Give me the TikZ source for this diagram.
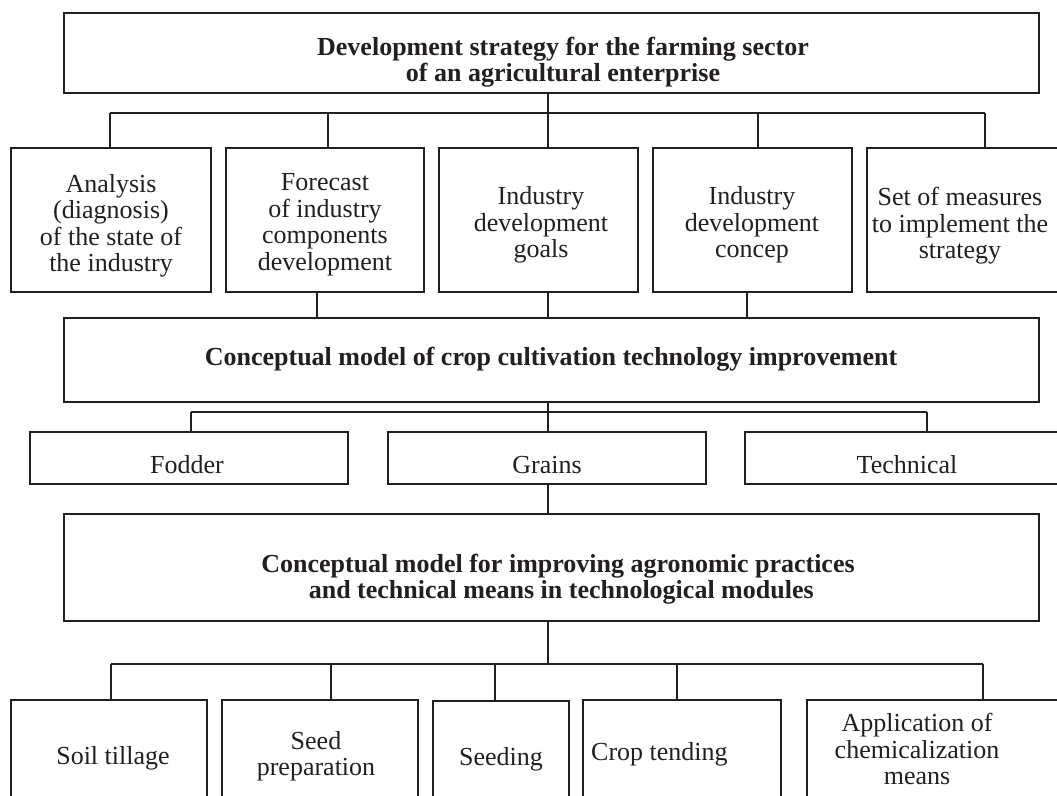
\documentclass[tikz,border=0pt]{standalone}
\usepackage{fontspec}
\setmainfont{Liberation Serif}
\definecolor{ink}{RGB}{35,31,32}
\begin{document}
\begin{tikzpicture}[x=1pt,y=-1pt,
  box/.style={draw=ink, line width=2.2pt, inner sep=0pt, outer sep=0pt, anchor=north west},
  conn/.style={draw=ink, line width=1.7pt},
  lbl/.style={text=ink, font=\fontsize{26pt}{26.5pt}\selectfont, align=center, inner sep=0pt},
  head/.style={lbl, font=\fontsize{26pt}{26.5pt}\selectfont\bfseries}]
\useasboundingbox (0,0) rectangle (1057,795);
\fill[white] (0,0) rectangle (1057,795);
\clip (0,0) rectangle (1057,795);

% ---- strategy level
\node[box, minimum width=975pt, minimum height=80pt] (T) at (64,13) {};
\node[head] (Ttxt) at (563,62) {Development strategy for the farming sector\\of an agricultural enterprise};

% ---- strategy components
\node[box, minimum width=200pt, minimum height=144pt] (b1) at (11,148) {};
\node[box, minimum width=198pt, minimum height=144pt] (b2) at (226,148) {};
\node[box, minimum width=199pt, minimum height=144pt] (b3) at (439,148) {};
\node[box, minimum width=199pt, minimum height=144pt] (b4) at (653,148) {};
\node[box, minimum width=200pt, minimum height=144pt] (b5) at (867,148) {};
\node[lbl] (b1t) at (111,226) {Analysis\\(diagnosis)\\of the state of\\the industry};
\node[lbl] (b2t) at (325,225) {Forecast\\of industry\\components\\development};
\node[lbl] (b3t) at (541,225) {Industry\\development\\goals};
\node[lbl] (b4t) at (752,225) {Industry\\development\\concep};
\node[lbl] (b5t) at (960,226) {Set of measures\\to implement the\\strategy};

% ---- crop cultivation model
\node[box, minimum width=975pt, minimum height=84pt] (M) at (64,318) {};
\node[head, anchor=base] (Mtxt) at (551,365) {Conceptual model of crop cultivation technology improvement};

% ---- crop groups
\node[box, minimum width=318pt, minimum height=52pt] (F) at (30,432) {};
\node[box, minimum width=318pt, minimum height=52pt] (G) at (388,432) {};
\node[box, minimum width=318pt, minimum height=52pt] (Tc) at (745,432) {};
\node[lbl, anchor=base] (Ft) at (187,473) {Fodder};
\node[lbl, anchor=base] (Gt) at (547,473) {Grains};
\node[lbl, anchor=base] (Tct) at (907,473) {Technical};

% ---- technological modules model
\node[box, minimum width=975pt, minimum height=107pt] (L) at (64,514) {};
\node[head] (Ltxt) at (558,579) {Conceptual model for improving agronomic practices\\\ and technical means in technological modules};

% ---- technological modules
\node[box, minimum width=196pt, minimum height=130pt] (s1) at (11,700) {};
\node[box, minimum width=196pt, minimum height=130pt] (s2) at (222,700) {};
\node[box, minimum width=136pt, minimum height=130pt] (s3) at (433,701) {};
\node[box, minimum width=198pt, minimum height=130pt] (s4) at (583,700) {};
\node[box, minimum width=270pt, minimum height=130pt] (s5) at (807,700) {};
\node[lbl, anchor=base] (s1t) at (113,764) {Soil tillage};
\node[lbl] (s2t) at (316,756) {Seed\\preparation};
\node[lbl, anchor=base] (s3t) at (501,765) {Seeding};
\node[lbl, anchor=base west] (s4t) at (591,760) {Crop tending};
\node[lbl] (s5t) at (917,749) {Application of\\chemicalization\\means};

% ---- junction points of the connector buses
\coordinate (ja1) at (110,113);
\coordinate (ja2) at (328,113);
\coordinate (ja3) at (548,113);
\coordinate (ja4) at (758,113);
\coordinate (ja5) at (985,113);
\coordinate (jb2) at (317,305);
\coordinate (jb3) at (548,305);
\coordinate (jb4) at (747,305);
\coordinate (jc1) at (191,412);
\coordinate (jc3) at (548,412);
\coordinate (jc5) at (927,412);
\coordinate (jd1) at (111,664);
\coordinate (jd2) at (331,664);
\coordinate (jd3) at (495,664);
\coordinate (jdm) at (548,664);
\coordinate (jd4) at (677,664);
\coordinate (jd5) at (983,664);

% strategy -> components
\draw[conn] (ja1) -- (ja5);
\draw[conn] (T.south -| ja3) -- (b3.north -| ja3);
\foreach \i in {1,2,4,5} \draw[conn] (ja\i) -- (b\i.north -| ja\i);

% components -> crop cultivation model
\foreach \i in {2,3,4} \draw[conn] (b\i.south -| jb\i) -- (M.north -| jb\i);

% crop cultivation model -> crop groups
\draw[conn] (jc1) -- (jc5);
\draw[conn] (M.south -| jc3) -- (G.north -| jc3);
\draw[conn] (jc1) -- (F.north -| jc1);
\draw[conn] (jc5) -- (Tc.north -| jc5);

% grains -> technological modules model
\draw[conn] (G.south -| jc3) -- (L.north -| jc3);

% technological modules model -> modules
\draw[conn] (jd1) -- (jd5);
\draw[conn] (L.south -| jdm) -- (jdm);
\foreach \i in {1,2,3,4,5} \draw[conn] (jd\i) -- (s\i.north -| jd\i);
\end{tikzpicture}
\end{document}
